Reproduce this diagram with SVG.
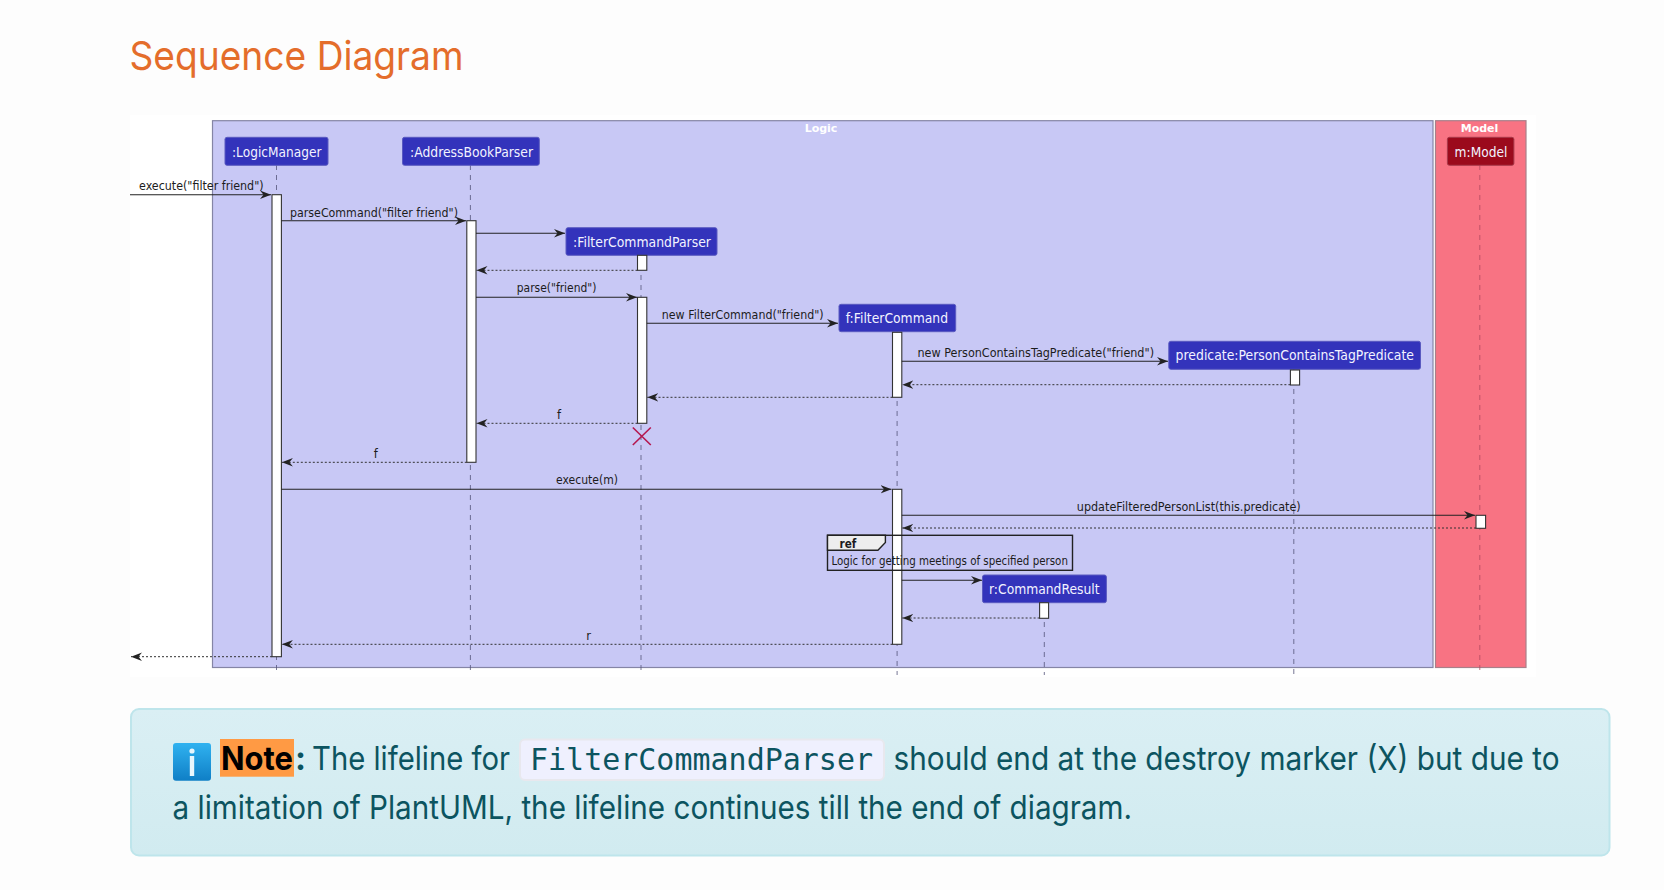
<svg xmlns="http://www.w3.org/2000/svg" width="1664" height="890" viewBox="0 0 1664 890">
<style>
.head{fill:#3333bb;stroke:#5a5ac0;stroke-width:1}
.headm{fill:#9b0a1c;stroke:#a83a4a;stroke-width:1}
.pt{font-family:"DejaVu Sans",sans-serif;font-size:13.5px;fill:#f2f2ff}
.msg{font-family:"DejaVu Sans",sans-serif;font-size:11.5px;fill:#1c1c1c}
.life{stroke:#55557a;stroke-width:1;stroke-dasharray:5 5;fill:none;stroke-opacity:.8}
.act{fill:#fff;stroke:#333;stroke-width:1.1}
.sync{stroke:#222;stroke-width:1.1;fill:none;marker-end:url(#arr)}
.ret{stroke:#333;stroke-width:1;stroke-dasharray:2 2;fill:none;marker-end:url(#arr)}
.frame{font-family:"DejaVu Sans",sans-serif;font-size:11px;font-weight:700;fill:#fff}
.body{font-family:Inter,"Liberation Sans",sans-serif;font-size:33px;fill:#0c5460}
</style>
<defs>
<marker id="arr" markerUnits="userSpaceOnUse" markerWidth="13" markerHeight="10" refX="11" refY="5" orient="auto"><path d="M0,0.8 L11,5 L0,9.2 L3.5,5 Z" fill="#222"/></marker>
<linearGradient id="noteg" x1="0" y1="0" x2="0" y2="1"><stop offset="0" stop-color="#daeff4"/><stop offset="1" stop-color="#d1ebf0"/></linearGradient>
<linearGradient id="icong" x1="0" y1="0" x2="0" y2="1"><stop offset="0" stop-color="#30b2f0"/><stop offset="1" stop-color="#0f7fc6"/></linearGradient>
</defs>
<rect width="1664" height="890" fill="#fdfdfd"/>
<text x="129.5" y="69.5" font-family="Inter,'Liberation Sans',sans-serif" font-size="40" fill="#e46d2b" textLength="334" lengthAdjust="spacingAndGlyphs">Sequence Diagram</text>
<rect x="130" y="115" width="1406" height="562" fill="#fff"/>

<g id="frame-logic">
<rect x="212.5" y="120.7" width="1220.5" height="546.8" fill="#c8c8f5" stroke="#8585a5" stroke-width="1.2"/>
<text class="frame" x="821" y="132" text-anchor="middle">Logic</text>
</g>
<g id="frame-model">
<rect x="1435.5" y="120.7" width="90.5" height="546.8" fill="#f87383" stroke="#a8808a" stroke-width="1.2"/>
<text class="frame" x="1479.5" y="131.7" text-anchor="middle">Model</text>
</g>

<g id="logicmanager">
<line class="life" x1="276.5" y1="165" x2="276.5" y2="675"/>
<rect class="head" x="225" y="137.3" width="103" height="28" rx="2"/>
<text class="pt" x="232" y="156.7" textLength="89.4" lengthAdjust="spacingAndGlyphs">:LogicManager</text>
<rect class="act" x="272" y="194.7" width="9.4" height="462"/>
</g>
<g id="addressbookparser">
<line class="life" x1="470.4" y1="165" x2="470.4" y2="675"/>
<rect class="head" x="402.5" y="137.3" width="136.8" height="28" rx="2"/>
<text class="pt" x="410" y="156.7" textLength="123" lengthAdjust="spacingAndGlyphs">:AddressBookParser</text>
<rect class="act" x="466.8" y="220.7" width="9.2" height="241.6"/>
</g>
<g id="filtercommandparser">
<line class="life" x1="641" y1="255" x2="641" y2="675"/>
<rect class="head" x="566" y="227.7" width="151" height="27.6" rx="2"/>
<text class="pt" x="573" y="246.7" textLength="138" lengthAdjust="spacingAndGlyphs">:FilterCommandParser</text>
<rect class="act" x="637.5" y="255.3" width="9.3" height="15"/>
<rect class="act" x="637.5" y="297.3" width="9.3" height="126"/>
<path d="M632.8,427.5 L650.8,445 M650.8,427.5 L632.8,445" stroke="#b5174f" stroke-width="1.6" fill="none"/>
</g>
<g id="filtercommand">
<line class="life" x1="897.1" y1="331" x2="897.1" y2="675"/>
<rect class="head" x="839" y="304.3" width="116.7" height="27.4" rx="2"/>
<text class="pt" x="845.7" y="323.3" textLength="102.3" lengthAdjust="spacingAndGlyphs">f:FilterCommand</text>
<rect class="act" x="892.5" y="332.3" width="9.3" height="65"/>
<rect class="act" x="892.5" y="489.3" width="9.3" height="155"/>
</g>
<g id="predicate">
<line class="life" x1="1293.8" y1="369" x2="1293.8" y2="675"/>
<rect class="head" x="1168.8" y="341.3" width="251.7" height="28" rx="2"/>
<text class="pt" x="1175.6" y="360" textLength="238.4" lengthAdjust="spacingAndGlyphs">predicate:PersonContainsTagPredicate</text>
<rect class="act" x="1290.4" y="370" width="9.2" height="15"/>
</g>
<g id="model">
<line class="life" x1="1479.8" y1="165" x2="1479.8" y2="673" style="stroke:#b04a60"/>
<rect class="headm" x="1447.4" y="137.3" width="66.5" height="28" rx="2"/>
<text class="pt" x="1454.6" y="156.7" textLength="52.8" lengthAdjust="spacingAndGlyphs">m:Model</text>
<rect class="act" x="1476" y="515.3" width="9.6" height="13"/>
</g>
<g id="commandresult">
<line class="life" x1="1044.3" y1="602" x2="1044.3" y2="675"/>
<rect class="head" x="982.5" y="575" width="123.9" height="27.7" rx="2"/>
<text class="pt" x="989" y="593.7" textLength="110.6" lengthAdjust="spacingAndGlyphs">r:CommandResult</text>
<rect class="act" x="1039.6" y="602.7" width="9" height="15.6"/>
</g>

<g id="connectors">
<line class="sync" x1="130" y1="194.7" x2="271" y2="194.7"/>
<text class="msg" x="139" y="190" textLength="124.6" lengthAdjust="spacingAndGlyphs">execute("filter friend")</text>
<line class="sync" x1="281.4" y1="220.7" x2="466" y2="220.7"/>
<text class="msg" x="290" y="216.7" textLength="168" lengthAdjust="spacingAndGlyphs">parseCommand("filter friend")</text>
<line class="sync" x1="476" y1="233.3" x2="565" y2="233.3"/>
<line class="ret" x1="637.5" y1="270.3" x2="476.5" y2="270.3"/>
<line class="sync" x1="476" y1="297.3" x2="637" y2="297.3"/>
<text class="msg" x="516.8" y="292.3" textLength="79.6" lengthAdjust="spacingAndGlyphs">parse("friend")</text>
<line class="sync" x1="646.8" y1="323.3" x2="838" y2="323.3"/>
<text class="msg" x="661.8" y="319.3" textLength="161.8" lengthAdjust="spacingAndGlyphs">new FilterCommand("friend")</text>
<line class="sync" x1="901.8" y1="361.3" x2="1168" y2="361.3"/>
<text class="msg" x="917.5" y="356.7" textLength="236.5" lengthAdjust="spacingAndGlyphs">new PersonContainsTagPredicate("friend")</text>
<line class="ret" x1="1290.4" y1="384.7" x2="902.3" y2="384.7"/>
<line class="ret" x1="892.5" y1="397.3" x2="647.3" y2="397.3"/>
<line class="ret" x1="637.5" y1="423.3" x2="476.5" y2="423.3"/>
<text class="msg" x="559" y="419" text-anchor="middle">f</text>
<line class="ret" x1="466.8" y1="462.3" x2="281.9" y2="462.3"/>
<text class="msg" x="375.7" y="457.7" text-anchor="middle">f</text>
<line class="sync" x1="281.4" y1="489.3" x2="891.5" y2="489.3"/>
<text class="msg" x="556" y="484" textLength="62" lengthAdjust="spacingAndGlyphs">execute(m)</text>
<line class="sync" x1="901.8" y1="515.3" x2="1475" y2="515.3"/>
<text class="msg" x="1076.8" y="511" textLength="223.9" lengthAdjust="spacingAndGlyphs">updateFilteredPersonList(this.predicate)</text>
<line class="ret" x1="1476" y1="528" x2="902.3" y2="528"/>
<line class="sync" x1="901.8" y1="580.3" x2="982" y2="580.3"/>
<line class="ret" x1="1039.6" y1="618" x2="902.3" y2="618"/>
<line class="ret" x1="892.5" y1="644.3" x2="281.9" y2="644.3"/>
<text class="msg" x="588.6" y="640" text-anchor="middle">r</text>
<line class="ret" x1="272" y1="656.7" x2="131" y2="656.7"/>
</g>

<g id="ref">
<rect x="827.5" y="535.3" width="245" height="35" fill="none" stroke="#222" stroke-width="1.4"/>
<path d="M827.5,535.3 H885.4 V542.5 L877.9,550.3 H827.5 Z" fill="#eeeeee" stroke="#222" stroke-width="1.4"/>
<text x="839.6" y="548" font-family="'DejaVu Sans',sans-serif" font-size="11.5" font-weight="700" fill="#1c1c1c" textLength="16.8" lengthAdjust="spacingAndGlyphs">ref</text>
<text class="msg" x="831.4" y="565" textLength="236.5" lengthAdjust="spacingAndGlyphs">Logic for getting meetings of specified person</text>
</g>

<g id="note">
<rect x="131" y="709" width="1478.5" height="146.5" rx="8" fill="url(#noteg)" stroke="#bee5eb" stroke-width="2"/>
<rect x="173" y="743" width="38" height="37.7" rx="3" fill="url(#icong)"/>
<circle cx="192" cy="751" r="2.6" fill="#e8f6fd"/>
<rect x="189.8" y="756" width="4.4" height="20" fill="#e8f6fd"/>
<rect x="220" y="739" width="74" height="37.7" fill="#ff9a44"/>
<text x="221" y="769.5" font-family="Inter,'Liberation Sans',sans-serif" font-size="33" font-weight="700" fill="#000" textLength="72" lengthAdjust="spacingAndGlyphs">Note</text>
<text x="295" y="769.5" font-family="Inter,'Liberation Sans',sans-serif" font-size="33" font-weight="700" fill="#0c5460">:</text>
<text class="body" x="312" y="769.5" textLength="198" lengthAdjust="spacingAndGlyphs">The lifeline for</text>
<rect x="520" y="739.5" width="364" height="40.5" rx="5" fill="#eff0fe" stroke="#e8e8ee" stroke-width="2"/>
<text x="530" y="769.5" font-family="'DejaVu Sans Mono',monospace" font-size="30" fill="#0c5460" textLength="343" lengthAdjust="spacingAndGlyphs">FilterCommandParser</text>
<text class="body" x="893.5" y="769.5" textLength="666" lengthAdjust="spacingAndGlyphs">should end at the destroy marker (X) but due to</text>
<text class="body" x="172.5" y="818.5" textLength="959.5" lengthAdjust="spacingAndGlyphs">a limitation of PlantUML, the lifeline continues till the end of diagram.</text>
</g>
</svg>
